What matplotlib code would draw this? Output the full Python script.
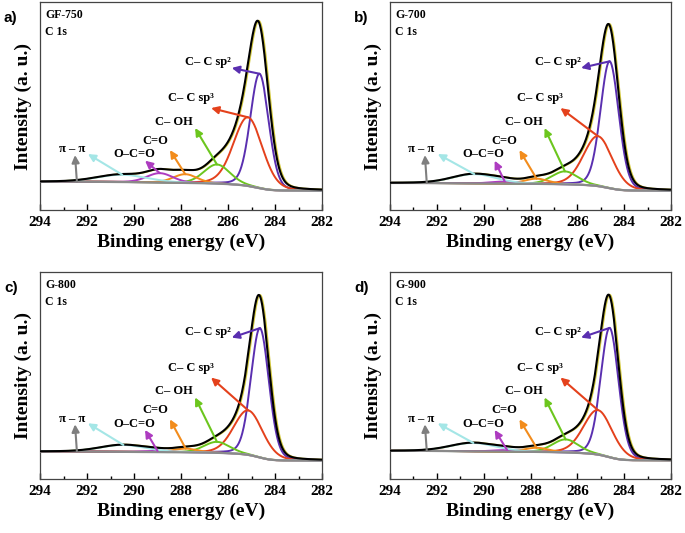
import numpy as np
import matplotlib
matplotlib.use('Agg')
import matplotlib.pyplot as plt
from matplotlib.ticker import MultipleLocator

plt.rcParams['font.family'] = ['Liberation Serif', 'DejaVu Serif']
plt.rcParams['font.weight'] = 'bold'

# образцы и компоненты C 1s
samples = ['GF-750', 'G-700', 'G-800', 'G-900']
panel_tags = ['a)', 'b)', 'c)', 'd)']
components = ['C\u2013 C sp\u00b2', 'C\u2013 C sp\u00b3', 'C\u2013 OH', 'C=O', 'O\u2013C=O', '\u03c0 \u2013 \u03c0']
comp_colors = ['#5a2fb0', '#e4411c', '#6cc61e', '#f28c1c', '#ad3cc0', '#a4e6e6']

# положения пиков (эВ), высоты над фоном (отн. ед.), FWHM (эВ)
centers_a = [284.66, 285.15, 286.47, 287.82, 288.90, 290.50]
centers_b = [284.62, 285.12, 286.53, 287.74, 289.10, 290.40]
centers_c = [284.64, 285.14, 286.47, 287.80, 289.00, 290.45]
centers_d = [284.62, 285.12, 286.50, 287.74, 289.00, 290.44]

heights_a = [55.0, 33.0, 9.2, 4.2, 4.5, 3.5]
heights_b = [61.0, 24.0, 6.2, 2.5, 1.0, 4.4]
heights_c = [62.5, 21.5, 5.3, 1.8, 0.6, 3.3]
heights_d = [62.5, 21.5, 6.3, 2.0, 0.8, 4.0]

fwhm_a = [0.92, 1.45, 1.30, 1.20, 1.30, 2.50]
fwhm_b = [0.92, 1.45, 1.30, 1.20, 1.30, 2.20]
fwhm_c = [0.90, 1.45, 1.30, 1.20, 1.30, 2.30]
fwhm_d = [0.90, 1.45, 1.30, 1.20, 1.30, 2.30]

# уровни фона Ширли: со стороны 294 эВ и 282 эВ
bg_high = [13.6, 13.0, 13.3, 13.6]
bg_low = [9.3, 9.3, 8.9, 9.0]

centers = [centers_a, centers_b, centers_c, centers_d]
heights = [heights_a, heights_b, heights_c, heights_d]
fwhms = [fwhm_a, fwhm_b, fwhm_c, fwhm_d]

# подписи: (правый край текста эВ, y), острие стрелки (эВ, y)
label_pos = [(285.87, 71.2), (286.60, 53.8), (287.49, 42.3), (288.55, 33.2), (289.11, 26.7), (292.09, 29.1)]
head_pos = [(285.84, 68.3), (286.72, 49.0), (287.40, 39.4), (288.47, 28.8), (289.53, 23.7), (291.96, 26.9)]
gray_head = (292.51, 26.4)
gray_tail_x = 292.43

ETA = 0.15


def pseudo_voigt(x, c, h, w):
    d = (x - c) / w
    g = np.exp(-4 * np.log(2) * d ** 2)
    l = 1.0 / (1.0 + 4 * d ** 2)
    return h * (ETA * l + (1 - ETA) * g)


# положения осей в долях фигуры (как на исходном рисунке)
axes_rects = [
    [40 / 685, 1 - 210 / 533, 282 / 685, 208 / 533],
    [390 / 685, 1 - 210 / 533, 281 / 685, 208 / 533],
    [40 / 685, 1 - 479 / 533, 282 / 685, 207 / 533],
    [390 / 685, 1 - 479 / 533, 281 / 685, 207 / 533],
]

fig = plt.figure(figsize=(6.85, 5.33), dpi=100)
x = np.linspace(282, 294, 1201)

for i in range(4):
    ax = fig.add_axes(axes_rects[i])
    peaks = [pseudo_voigt(x, c, h, w) for c, h, w in zip(centers[i], heights[i], fwhms[i])]
    total = np.sum(peaks, axis=0)
    area = np.cumsum(total)
    bg = bg_low[i] + (bg_high[i] - bg_low[i]) * area / area[-1]
    env = bg + total
    raw = np.interp(x + 0.05, x, env)

    ax.plot(x, raw, color='#d2c83c', lw=1.3, zorder=2)
    for p, col in zip(peaks, comp_colors):
        ax.plot(x, bg + p, color=col, lw=1.4, zorder=3)
    ax.plot(x, bg, color='#8a8a8a', lw=1.6, zorder=3)
    ax.plot(x, env, color='black', lw=1.5, zorder=4)

    # стрелки от пиков к подписям
    for k in range(6):
        c = centers[i][k]
        tail_y = np.interp(c, x, bg) + heights[i][k]
        ax.annotate('', xy=head_pos[k], xytext=(c, tail_y),
                    arrowprops=dict(arrowstyle='-|>', color=comp_colors[k], lw=1.5,
                                    mutation_scale=11, shrinkA=0, shrinkB=0), zorder=5)
        ax.text(label_pos[k][0], label_pos[k][1], components[k], ha='right', va='center',
                fontsize=9, fontweight='bold')
    ax.annotate('', xy=gray_head, xytext=(gray_tail_x, np.interp(gray_tail_x, x, bg)),
                arrowprops=dict(arrowstyle='-|>', color='#7f7f7f', lw=1.5,
                                mutation_scale=11, shrinkA=0, shrinkB=0), zorder=5)

    ax.text(0.018, 0.965, samples[i], transform=ax.transAxes, ha='left', va='top',
            fontsize=8.5, fontweight='bold')
    ax.text(0.018, 0.885, 'C 1s', transform=ax.transAxes, ha='left', va='top',
            fontsize=8.5, fontweight='bold')

    ax.set_xlim(294, 282)
    ax.set_ylim(0, 100)
    ax.set_yticks([])
    ax.xaxis.set_major_locator(MultipleLocator(2))
    ax.xaxis.set_minor_locator(MultipleLocator(1))
    ax.tick_params(axis='x', which='major', direction='in', length=4, width=1, labelsize=11, pad=4)
    ax.tick_params(axis='x', which='minor', direction='in', length=2, width=1)
    for lab in ax.get_xticklabels():
        lab.set_fontweight('bold')
    for s in ax.spines.values():
        s.set_color('#444444')
        s.set_linewidth(0.9)
    ax.set_xlabel('Binding energy (eV)', fontsize=14, fontweight='bold', labelpad=4)
    ax.set_ylabel('Intensity (a. u.)', fontsize=14, fontweight='bold', labelpad=6)

    bx = axes_rects[i][0]
    ty = axes_rects[i][1] + axes_rects[i][3]
    fig.text(bx - 36 / 685, ty - 9 / 533, panel_tags[i], ha='left', va='top',
             fontsize=11, fontweight='bold', family='Liberation Sans')

fig.savefig('out.png', dpi=100)
